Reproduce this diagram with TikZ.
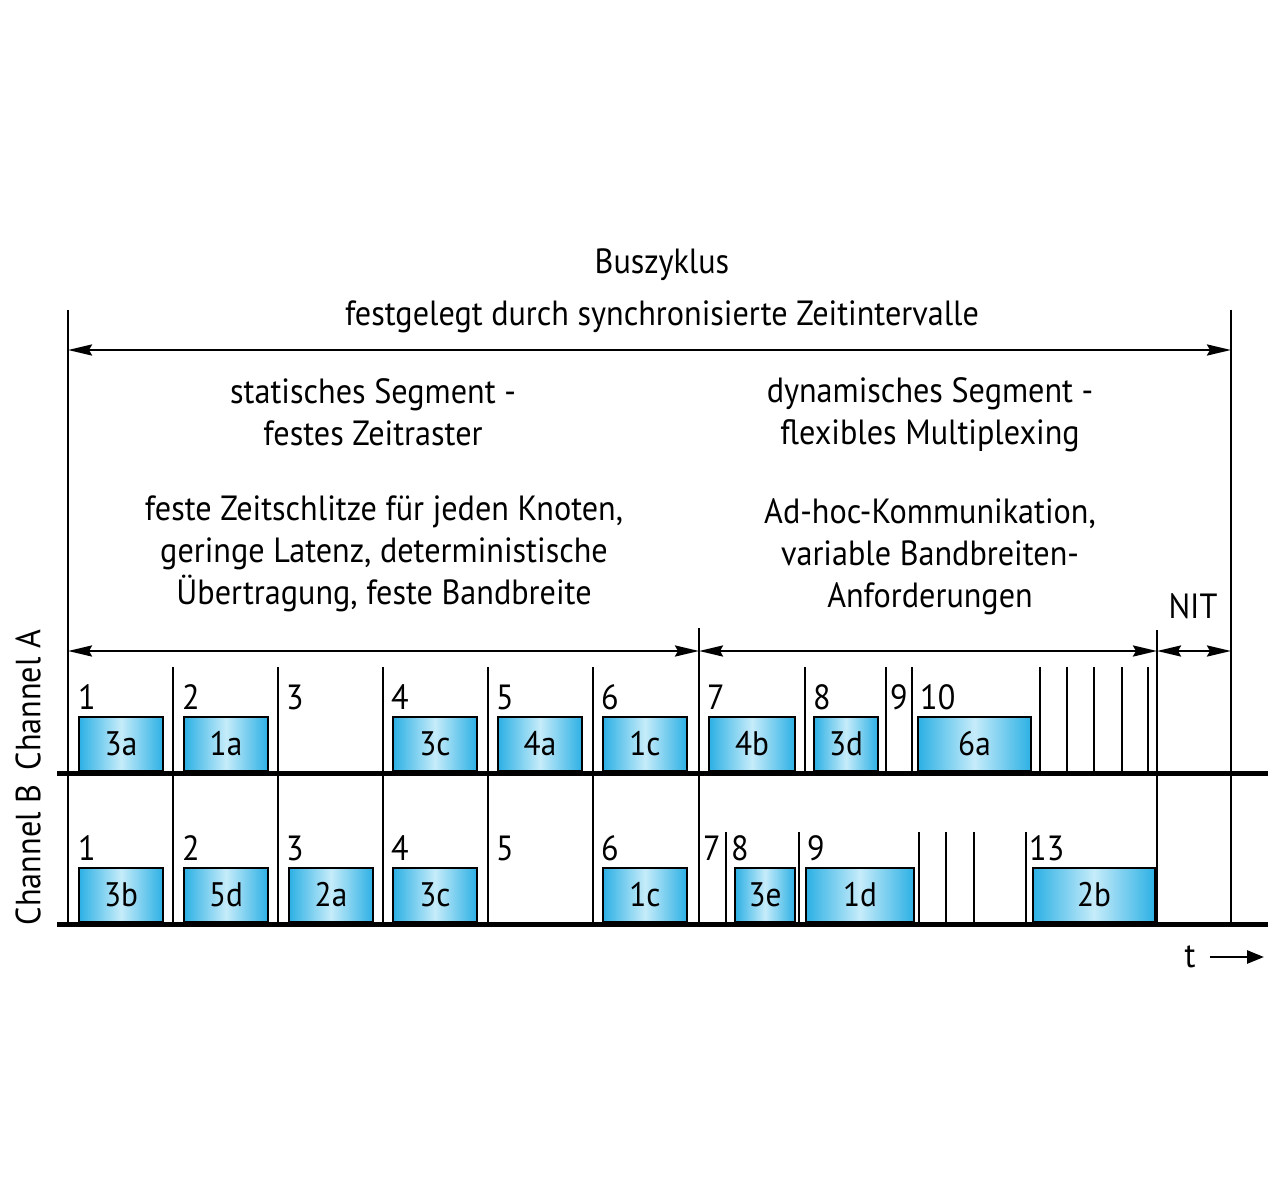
\documentclass[tikz,border=0pt]{standalone}
\usepackage{fontspec}
\setmainfont[FakeStretch=0.92]{PT Sans}
\usetikzlibrary{arrows.meta}
\definecolor{cyanE}{HTML}{2CB0E4}
\definecolor{cyanM}{HTML}{C6ECFA}
\newcommand\dfont{\fontsize{35}{42}\selectfont}
\newcommand\numfont{\fontsize{35}{40}\selectfont}
\newcommand\boxfont{\fontsize{34}{40}\selectfont}
\begin{document}
\begin{tikzpicture}[x=1pt,y=-1pt]
\tikzset{
 vl/.style={line width=2.8pt},
 baseln/.style={line width=5pt},
 dim/.style={line width=2.6pt, {Stealth[length=24pt,width=11pt,inset=3pt]}-{Stealth[length=24pt,width=11pt,inset=3pt]}},
 pkt/.style={draw=black, line width=2.2pt, left color=cyanE, right color=cyanE, middle color=cyanM, inner sep=0pt, font=\boxfont, minimum height=54pt},
 num/.style={anchor=west, inner sep=0pt, font=\numfont},
 txt/.style={align=center, font=\dfont, inner sep=0pt},
}
\useasboundingbox (0,0) rectangle (1280,1190);

% texts
\node[txt] (title1) at (662,265) {Buszyklus};
\node[txt] (title2) at (662,317) {festgelegt durch synchronisierte Zeitintervalle};
\node[txt] (stat) at (373,412) {statisches Segment -\\festes Zeitraster};
\node[txt] (statd) at (384,554) {feste Zeitschlitze für jeden Knoten,\\geringe Latenz, deterministische\\Übertragung, feste Bandbreite};
\node[txt] (dyn) at (930,415) {dynamisches Segment -\\flexibles Multiplexing};
\node[txt] (dynd) at (930,557) {Ad-hoc-Kommunikation,\\variable Bandbreiten-\\Anforderungen};
\node[txt] (nit) at (1193,606) {NIT};
\node[txt, rotate=90] (chA) at (28,700) {Channel A};
\node[txt, rotate=90] (chB) at (28,855) {Channel B};

% boxes channel A
\node[pkt, minimum width=84pt] (A3a) at (121,744) {3a};
\node[pkt, minimum width=84pt] (A1a) at (226,744) {1a};
\node[pkt, minimum width=84pt] (A3c) at (435,744) {3c};
\node[pkt, minimum width=84pt] (A4a) at (540,744) {4a};
\node[pkt, minimum width=84pt] (A1c) at (645,744) {1c};
\node[pkt, minimum width=86pt] (A4b) at (752,744) {4b};
\node[pkt, minimum width=64pt] (A3d) at (846,744) {3d};
\node[pkt, minimum width=113pt] (A6a) at (974.5,744) {6a};
% boxes channel B
\node[pkt, minimum width=84pt] (B3b) at (121,895) {3b};
\node[pkt, minimum width=84pt] (B5d) at (226,895) {5d};
\node[pkt, minimum width=84pt] (B2a) at (331,895) {2a};
\node[pkt, minimum width=84pt] (B3c) at (435,895) {3c};
\node[pkt, minimum width=84pt] (B1c) at (645,895) {1c};
\node[pkt, minimum width=60pt] (B3e) at (765,895) {3e};
\node[pkt, minimum width=108pt] (B1d) at (860,895) {1d};
\node[pkt, minimum width=122pt] (B2b) at (1094,895) {2b};

% slot numbers channel A
\foreach \x/\t [count=\i] in {78/1,182/2,286/3,391/4,496/5,601/6,707/7,813/8,890/9,920/10}
  \node[num] (nA\i) at (\x,697) {\t};
% slot numbers channel B
\foreach \x/\t [count=\i] in {78/1,182/2,286/3,391/4,496/5,601/6,703/7,731/8,807/9,1029/13}
  \node[num] (nB\i) at (\x,848) {\t};

% outer lines
\coordinate (oLt) at (68,310); \coordinate (oLb) at (68,925);
\coordinate (oRt) at (1231,310); \coordinate (oRb) at (1231,925);
\draw[vl] (oLt) -- (oLb);
\draw[vl] (oRt) -- (oRb);
\coordinate (sDt) at (699,628); \coordinate (sDb) at (699,925);
\coordinate (sNt) at (1157,630); \coordinate (sNb) at (1157,925);
\draw[vl] (sDt) -- (sDb);
\draw[vl] (sNt) -- (sNb);
% static dividers through both channels
\foreach \x [count=\i] in {173,278,383,488,593}{
  \coordinate (sv\i t) at (\x,667); \coordinate (sv\i b) at (\x,925);
  \draw[vl] (sv\i t) -- (sv\i b);
}
% dynamic dividers channel A
\foreach \x [count=\i] in {805,886,912,1040,1067,1094,1122,1148}{
  \coordinate (da\i t) at (\x,667); \coordinate (da\i b) at (\x,773);
  \draw[vl] (da\i t) -- (da\i b);
}
% dynamic dividers channel B
\foreach \x [count=\i] in {726,799,919,946,974,1026}{
  \coordinate (db\i t) at (\x,832); \coordinate (db\i b) at (\x,924);
  \draw[vl] (db\i t) -- (db\i b);
}

% dimension arrows
\coordinate (cyL) at (68,350); \coordinate (cyR) at (1231,350);
\draw[dim] (cyL) -- (cyR);
\coordinate (stL) at (68,651); \coordinate (stR) at (699,651);
\draw[dim] (stL) -- (stR);
\coordinate (dyL) at (699,651); \coordinate (dyR) at (1157,651);
\draw[dim] (dyL) -- (dyR);
\coordinate (niL) at (1157,651); \coordinate (niR) at (1231,651);
\draw[dim] (niL) -- (niR);

% baselines
\coordinate (bAl) at (57,773); \coordinate (bAr) at (1268,773);
\coordinate (bBl) at (57,924); \coordinate (bBr) at (1268,924);
\draw[baseln] (bAl) -- (bAr);
\draw[baseln] (bBl) -- (bBr);

% time axis
\node[txt] (t) at (1190,957) {t};
\coordinate (ta1) at (1210,957); \coordinate (ta2) at (1264,957);
\draw[line width=2.6pt, -{Triangle[length=17pt,width=13pt]}] (ta1) -- (ta2);
\end{tikzpicture}
\end{document}
